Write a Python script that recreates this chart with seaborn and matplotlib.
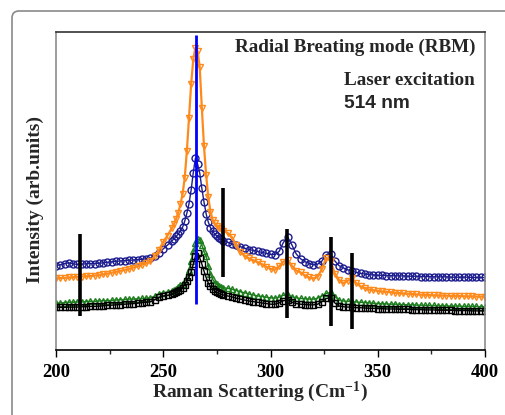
import numpy as np
import pandas as pd
import matplotlib
matplotlib.use("Agg")
import matplotlib.pyplot as plt
import seaborn as sns
from matplotlib.patches import FancyBboxPatch
from matplotlib.transforms import IdentityTransform
from matplotlib.ticker import MultipleLocator

# ---------------- data ----------------
raman_shift = list(range(200, 255, 2)) + list(range(255, 279)) + list(range(280, 401, 2))

navy_series = [
    26.5, 26.8, 27.2, 27.4, 27.1, 26.9, 27.0, 27.1, 27.2, 27.2, 27.3, 27.4, 27.6, 27.7,
    27.9, 28.0, 28.1, 28.2, 28.3, 28.4, 28.5, 28.7, 28.9, 29.6, 30.6, 31.8, 33.0, 34.3,
    35.0, 35.7, 36.5, 37.5, 38.6, 40.5, 43.0, 46.0, 50.3, 55.8, 60.3, 58.5, 55.7, 50.8,
    46.5, 42.8, 40.2, 38.5, 37.3, 36.5, 35.8, 35.3, 34.8, 34.4,
    33.9, 33.4, 32.9, 32.5, 32.0, 31.6, 31.3, 31.0, 30.7, 30.4, 30.1, 30.0, 31.0, 33.8,
    35.5, 33.0, 30.2, 28.7, 27.8, 27.2, 26.8, 27.0, 28.0, 30.0, 30.2, 28.0, 26.5, 25.8,
    25.2, 24.8, 24.4, 24.1, 23.9, 23.7, 23.6, 23.5, 23.5, 23.4, 23.4, 23.3, 23.3, 23.3,
    23.2, 23.2, 23.2, 23.1, 23.1, 23.1, 23.0, 23.0, 23.0, 23.0, 22.9, 22.9, 22.9, 22.9,
    22.9, 22.8, 22.8, 22.8, 22.8,
]
orange_series = [
    22.5, 22.6, 22.7, 22.8, 22.9, 23.0, 23.1, 23.2, 23.3, 23.4, 23.6, 23.8, 24.0, 24.3,
    24.6, 24.9, 25.2, 25.5, 25.9, 26.3, 26.8, 27.3, 28.0, 29.5, 31.5, 34.0, 36.0, 38.3,
    39.6, 41.2, 43.2, 45.8, 49.0, 54.0, 62.5, 73.0, 83.5, 91.5, 95.0, 94.0, 89.0, 76.0,
    64.0, 55.0, 48.0, 43.5, 41.0, 39.8, 39.0, 38.5, 38.0, 37.5,
    36.8, 35.5, 33.0, 30.8, 29.6, 28.8, 28.2, 27.6, 27.0, 26.2, 25.5, 25.2, 26.3, 27.8,
    28.3, 26.5, 25.0, 24.4, 23.5, 22.8, 22.5, 23.0, 25.5, 29.0, 28.0, 24.0, 22.0, 21.0,
    21.8, 22.5, 21.0, 20.0, 19.5, 19.0, 18.8, 18.6, 18.4, 18.3, 18.2, 18.0, 17.9, 17.8,
    17.7, 17.6, 17.5, 17.4, 17.3, 17.3, 17.2, 17.2, 17.1, 17.1, 17.0, 17.0, 17.0, 16.9,
    16.9, 16.9, 16.8, 16.8, 16.8,
]
green_series = [
    14.7, 14.8, 14.9, 15.0, 15.0, 15.1, 15.1, 15.2, 15.3, 15.3, 15.4, 15.5, 15.5, 15.6,
    15.7, 15.8, 15.9, 16.0, 16.0, 16.1, 16.2, 16.3, 16.4, 16.9, 17.6, 18.0, 18.2, 18.6,
    18.9, 19.3, 19.8, 20.3, 20.9, 21.8, 23.0, 25.2, 28.0, 31.0, 33.5, 34.9, 34.6, 33.0,
    31.0, 29.5, 26.5, 24.0, 22.3, 21.2, 20.6, 20.2, 19.9, 19.6,
    19.4, 19.1, 18.7, 18.3, 18.0, 17.6, 17.3, 17.0, 16.8, 16.6, 16.4, 16.3, 16.6, 17.2,
    17.3, 16.7, 16.4, 16.2, 16.1, 16.0, 16.0, 16.3, 17.0, 17.8, 18.1, 16.8, 15.7, 15.4,
    15.3, 15.2, 15.1, 15.0, 14.9, 14.8, 14.7, 14.6, 14.5, 14.5, 14.4, 14.4, 14.3, 14.3,
    14.2, 14.2, 14.1, 14.1, 14.0, 14.0, 14.0, 13.9, 13.9, 13.9, 13.8, 13.8, 13.8, 13.7,
    13.7, 13.7, 13.7, 13.6, 13.6,
]
black_series = [
    13.4, 13.4, 13.4, 13.5, 13.5, 13.5, 13.6, 13.6, 13.7, 13.7, 13.8, 13.9, 14.0, 14.1,
    14.2, 14.3, 14.4, 14.5, 14.6, 14.7, 14.9, 15.0, 15.2, 15.8, 16.6, 17.0, 17.2, 17.5,
    17.8, 18.1, 18.5, 19.0, 19.6, 20.5, 21.6, 23.0, 24.5, 27.0, 29.5, 30.5, 29.0, 27.0,
    24.8, 22.8, 21.0, 20.0, 19.2, 18.6, 18.1, 17.8, 17.5, 17.3,
    17.0, 16.7, 16.3, 16.0, 15.7, 15.4, 15.2, 15.0, 14.8, 14.6, 14.4, 14.4, 14.8, 15.5,
    15.7, 15.0, 14.6, 14.4, 14.3, 14.2, 14.2, 14.4, 15.2, 16.2, 16.4, 14.8, 13.8, 13.6,
    13.5, 13.4, 13.3, 13.3, 13.2, 13.1, 13.1, 13.0, 13.0, 12.9, 12.9, 12.9, 12.8, 12.8,
    12.8, 12.7, 12.7, 12.7, 12.6, 12.6, 12.6, 12.5, 12.5, 12.5, 12.5, 12.4, 12.4, 12.4,
    12.4, 12.3, 12.3, 12.3, 12.3,
]

# peak marker bars (black) and RBM position (blue)
bar_x = [211.2, 277.9, 307.7, 328.2, 338.0]
bar_low = [10.7, 23.0, 10.1, 7.5, 6.6]
bar_high = [36.5, 50.9, 38.1, 35.5, 30.5]
rbm_x = [265.3]
rbm_low = [14.5]
rbm_high = [99.1]

x_ticks = [200, 250, 300, 350, 400]

# ---------------- style ----------------
sns.set_style("white")
plt.rcParams["font.family"] = ["Liberation Serif", "DejaVu Serif"]
plt.rcParams["mathtext.fontset"] = "custom"
plt.rcParams["mathtext.rm"] = "Liberation Serif:bold"
plt.rcParams["mathtext.bf"] = "Liberation Serif:bold"
plt.rcParams["mathtext.default"] = "bf"

fig = plt.figure(figsize=(5.05, 4.15), dpi=100)
ax = fig.add_axes([56 / 505, 1 - 350 / 415, 429 / 505, 318 / 415])

df = pd.DataFrame({
    "shift": raman_shift,
    "navy": navy_series,
    "orange": orange_series,
    "green": green_series,
    "black": black_series,
})

styles = [
    ("navy", "#1c1c8e", "o", 1.0),
    ("orange", "#ff8a1c", "v", 1.6),
    ("green", "#1b7d1b", "^", 1.0),
    ("black", "#000000", "s", 1.0),
]
for col, color, mk, lw in styles:
    sns.lineplot(data=df, x="shift", y=col, ax=ax, color=color, lw=lw,
                 marker=mk, markersize=5.0, markerfacecolor="none",
                 markeredgecolor=color, markeredgewidth=1.0,
                 estimator=None, sort=True, legend=False)

ax.vlines(bar_x, bar_low, bar_high, colors="black", lw=2.6, zorder=5)
ax.vlines(rbm_x, rbm_low, rbm_high, colors="#0000ff", lw=2.0, zorder=6)

ax.set_xlim(200, 400)
ax.set_ylim(0, 100)
ax.set_xticks(x_ticks)
ax.xaxis.set_minor_locator(MultipleLocator(25))
ax.set_yticks([])
ax.tick_params(axis="x", which="major", direction="out", length=5, width=1,
               labelsize=13.5, pad=5, bottom=True, colors="black")
ax.tick_params(axis="x", which="minor", direction="out", length=3, width=1, bottom=True)
for lab in ax.get_xticklabels():
    lab.set_fontweight("bold")

for side, col in [("top", "#333333"), ("bottom", "#000000"), ("left", "#8c8c8c"), ("right", "#8c8c8c")]:
    ax.spines[side].set_visible(True)
    ax.spines[side].set_color(col)
    ax.spines[side].set_linewidth(1.2)

ax.set_xlabel(r"Raman Scattering (Cm$^{-1}$)", fontsize=14, fontweight="bold")
ax.xaxis.label.set_va("center")
ax.xaxis.set_label_coords(0.475, -0.133)
ax.set_ylabel("Intensity (arb.units)", fontsize=14, fontweight="bold")
ax.yaxis.label.set_va("center")
ax.yaxis.set_label_coords(-0.049, 0.472)

ax.text(0.979, 0.953, "Radial Breating mode (RBM)", transform=ax.transAxes,
        ha="right", va="center", fontsize=13.8, fontweight="bold")
ax.text(0.977, 0.849, "Laser excitation", transform=ax.transAxes,
        ha="right", va="center", fontsize=13.8, fontweight="bold")
ax.text(0.671, 0.776, "514 nm", transform=ax.transAxes,
        ha="left", va="center", fontsize=13.8, fontweight="bold",
        family=["Liberation Sans", "DejaVu Sans"])

# outer rounded frame
frame = FancyBboxPatch((12, -30), 560, 415 - 11 + 30,
                       boxstyle="round,pad=0,rounding_size=7",
                       transform=IdentityTransform(), fill=False,
                       edgecolor="#8a8a8a", lw=1.2, zorder=0)
fig.add_artist(frame)

fig.savefig("out.png", dpi=100)
